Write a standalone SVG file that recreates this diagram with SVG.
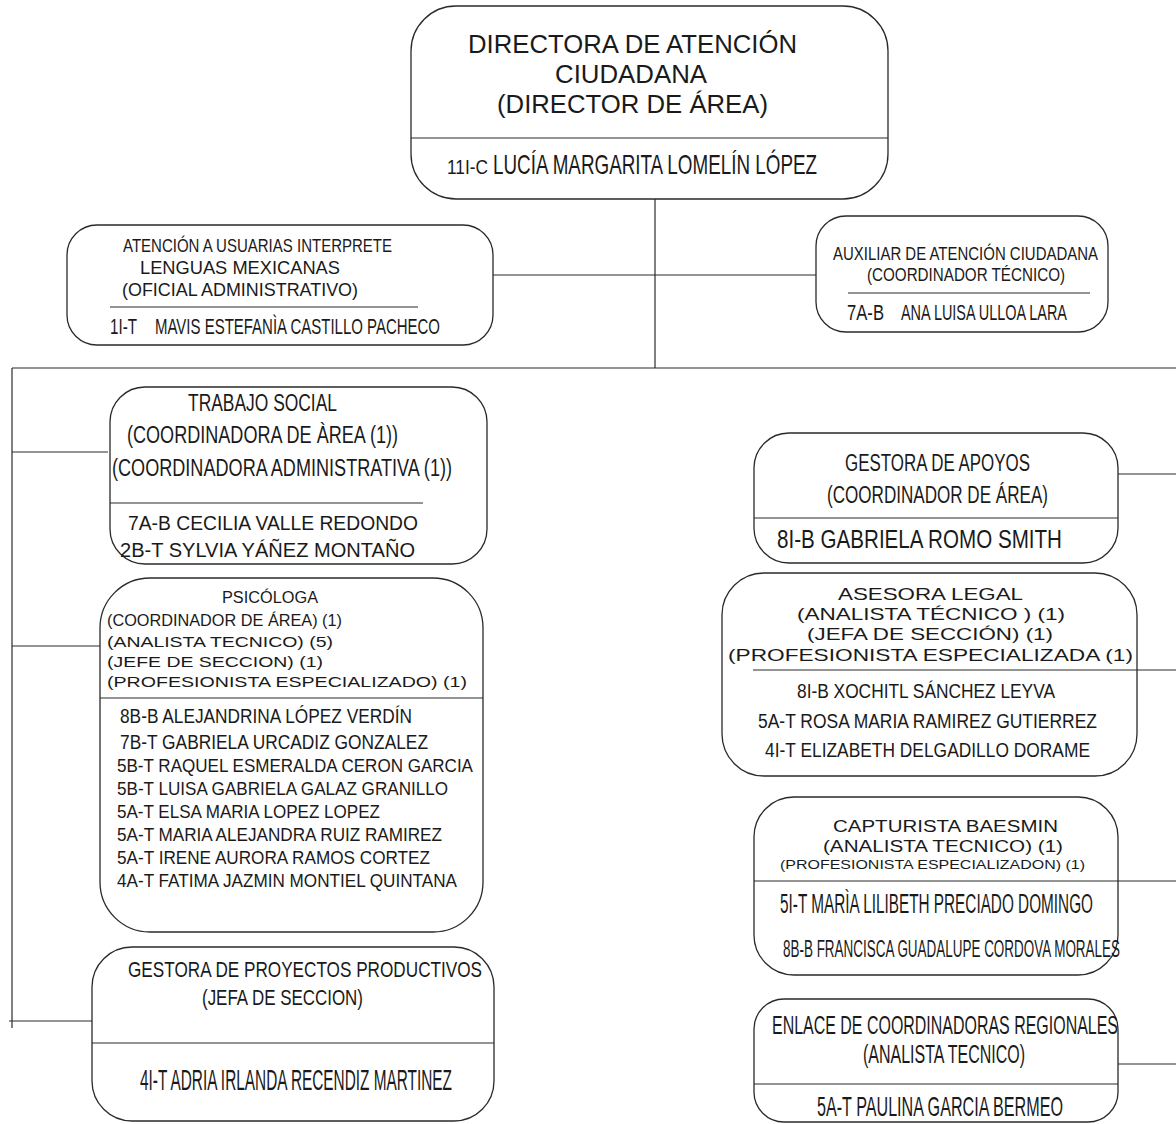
<svg xmlns="http://www.w3.org/2000/svg" width="1176" height="1124" viewBox="0 0 1176 1124">
<style>
.box{fill:#fff;stroke:#2a2a2a;stroke-width:1.3}
.div{stroke:#2a2a2a;stroke-width:1.2;fill:none}
.ln{stroke:#2a2a2a;stroke-width:1.2;fill:none}
text{font-family:"Liberation Sans",Arial,sans-serif;fill:#1a1a1a}
</style>
<rect width="1176" height="1124" fill="#fff"/>
<g id="connectors">
<line class="ln" x1="655" y1="199" x2="655" y2="368"/>
<line class="ln" x1="493" y1="275" x2="816" y2="275"/>
<line class="ln" x1="12" y1="368" x2="1176" y2="368"/>
<line class="ln" x1="12" y1="368" x2="12" y2="1028"/>
<line class="ln" x1="12" y1="452" x2="108" y2="452"/>
<line class="ln" x1="12" y1="646" x2="101" y2="646"/>
<line class="ln" x1="9" y1="1021" x2="92" y2="1021"/>
<line class="ln" x1="1118" y1="474" x2="1176" y2="474"/>
<line class="ln" x1="1137" y1="670" x2="1176" y2="670"/>
<line class="ln" x1="1118" y1="881" x2="1176" y2="881"/>
<line class="ln" x1="1116" y1="1064" x2="1176" y2="1064"/>
</g>
<g id="director">
<rect class="box" x="411" y="6" width="477" height="193" rx="45"/>
<line class="div" x1="411" y1="138" x2="888" y2="138"/>
<text x="468" y="53" font-size="25.5" textLength="329" lengthAdjust="spacingAndGlyphs">DIRECTORA DE ATENCIÓN</text>
<text x="555" y="83" font-size="25.5" textLength="152" lengthAdjust="spacingAndGlyphs">CIUDADANA</text>
<text x="497" y="113" font-size="25.5" textLength="271" lengthAdjust="spacingAndGlyphs">(DIRECTOR DE ÁREA)</text>
<text x="447" y="174" font-size="20" textLength="41" lengthAdjust="spacingAndGlyphs">11I-C</text>
<text x="493" y="174" font-size="28" textLength="324" lengthAdjust="spacingAndGlyphs">LUCÍA MARGARITA LOMELÍN LÓPEZ</text>
</g>
<g id="interprete">
<rect class="box" x="67" y="225" width="426" height="120" rx="30"/>
<line class="div" x1="110" y1="307" x2="418" y2="307"/>
<text x="123" y="252" font-size="18" textLength="269" lengthAdjust="spacingAndGlyphs">ATENCIÓN A USUARIAS INTERPRETE</text>
<text x="140" y="274" font-size="18" textLength="200" lengthAdjust="spacingAndGlyphs">LENGUAS MEXICANAS</text>
<text x="122" y="296" font-size="18" textLength="236" lengthAdjust="spacingAndGlyphs">(OFICIAL ADMINISTRATIVO)</text>
<text x="110" y="334" font-size="22" textLength="27" lengthAdjust="spacingAndGlyphs">1I-T</text>
<text x="155" y="334" font-size="22" textLength="285" lengthAdjust="spacingAndGlyphs">MAVIS ESTEFANÌA CASTILLO PACHECO</text>
</g>
<g id="auxiliar">
<rect class="box" x="816" y="216" width="292" height="116" rx="30"/>
<line class="div" x1="848" y1="293" x2="1090" y2="293"/>
<text x="833" y="260" font-size="18" textLength="265" lengthAdjust="spacingAndGlyphs">AUXILIAR DE ATENCIÓN CIUDADANA</text>
<text x="867" y="281" font-size="18" textLength="198" lengthAdjust="spacingAndGlyphs">(COORDINADOR TÉCNICO)</text>
<text x="847" y="320" font-size="22" textLength="37" lengthAdjust="spacingAndGlyphs">7A-B</text>
<text x="901" y="320" font-size="22" textLength="166" lengthAdjust="spacingAndGlyphs">ANA LUISA ULLOA LARA</text>
</g>
<g id="trabajo-social">
<rect class="box" x="110" y="387" width="377" height="177" rx="35"/>
<line class="div" x1="110" y1="503" x2="423" y2="503"/>
<text x="188" y="411" font-size="24" textLength="149" lengthAdjust="spacingAndGlyphs">TRABAJO SOCIAL</text>
<text x="127" y="443" font-size="23" textLength="271" lengthAdjust="spacingAndGlyphs">(COORDINADORA DE ÀREA (1))</text>
<text x="112" y="476" font-size="23" textLength="340" lengthAdjust="spacingAndGlyphs">(COORDINADORA ADMINISTRATIVA (1))</text>
<text x="128" y="530" font-size="19.5" textLength="290" lengthAdjust="spacingAndGlyphs">7A-B CECILIA VALLE REDONDO</text>
<text x="120" y="557" font-size="19.5" textLength="295" lengthAdjust="spacingAndGlyphs">2B-T SYLVIA YÁÑEZ MONTAÑO</text>
</g>
<g id="psicologa">
<rect class="box" x="100" y="578" width="383" height="354" rx="50"/>
<line class="div" x1="100" y1="698" x2="483" y2="698"/>
<text x="222" y="603" font-size="16" textLength="96" lengthAdjust="spacingAndGlyphs">PSICÓLOGA</text>
<text x="107" y="626" font-size="16" textLength="235" lengthAdjust="spacingAndGlyphs">(COORDINADOR DE ÁREA) (1)</text>
<text x="107" y="647" font-size="15.5" textLength="226" lengthAdjust="spacingAndGlyphs">(ANALISTA TECNICO) (5)</text>
<text x="107" y="667" font-size="15.5" textLength="216" lengthAdjust="spacingAndGlyphs">(JEFE DE SECCION) (1)</text>
<text x="107" y="687" font-size="15.5" textLength="360" lengthAdjust="spacingAndGlyphs">(PROFESIONISTA ESPECIALIZADO) (1)</text>
<text x="120" y="723" font-size="20.5" textLength="292" lengthAdjust="spacingAndGlyphs">8B-B ALEJANDRINA LÓPEZ VERDÍN</text>
<text x="120" y="749" font-size="20.5" textLength="308" lengthAdjust="spacingAndGlyphs">7B-T GABRIELA URCADIZ GONZALEZ</text>
<text x="117" y="772" font-size="19" textLength="356" lengthAdjust="spacingAndGlyphs">5B-T RAQUEL ESMERALDA CERON GARCIA</text>
<text x="117" y="795" font-size="19" textLength="331" lengthAdjust="spacingAndGlyphs">5B-T LUISA GABRIELA GALAZ GRANILLO</text>
<text x="117" y="818" font-size="19" textLength="263" lengthAdjust="spacingAndGlyphs">5A-T ELSA MARIA LOPEZ LOPEZ</text>
<text x="117" y="841" font-size="19" textLength="325" lengthAdjust="spacingAndGlyphs">5A-T MARIA ALEJANDRA RUIZ RAMIREZ</text>
<text x="117" y="864" font-size="19" textLength="313" lengthAdjust="spacingAndGlyphs">5A-T IRENE AURORA RAMOS CORTEZ</text>
<text x="117" y="887" font-size="19" textLength="340" lengthAdjust="spacingAndGlyphs">4A-T FATIMA JAZMIN MONTIEL QUINTANA</text>
</g>
<g id="proyectos-productivos">
<rect class="box" x="92" y="947" width="402" height="174" rx="40"/>
<line class="div" x1="92" y1="1043" x2="494" y2="1043"/>
<text x="128" y="977" font-size="22" textLength="354" lengthAdjust="spacingAndGlyphs">GESTORA DE PROYECTOS PRODUCTIVOS</text>
<text x="202" y="1005" font-size="22" textLength="161" lengthAdjust="spacingAndGlyphs">(JEFA DE SECCION)</text>
<text x="140" y="1090" font-size="29" textLength="312" lengthAdjust="spacingAndGlyphs">4I-T ADRIA IRLANDA RECENDIZ MARTINEZ</text>
</g>
<g id="gestora-apoyos">
<rect class="box" x="754" y="433" width="364" height="130" rx="35"/>
<line class="div" x1="754" y1="518" x2="1118" y2="518"/>
<text x="845" y="471" font-size="23" textLength="185" lengthAdjust="spacingAndGlyphs">GESTORA DE APOYOS</text>
<text x="827" y="503" font-size="23" textLength="221" lengthAdjust="spacingAndGlyphs">(COORDINADOR DE ÁREA)</text>
<text x="777" y="548" font-size="26" textLength="285" lengthAdjust="spacingAndGlyphs">8I-B GABRIELA ROMO SMITH</text>
</g>
<g id="asesora-legal">
<rect class="box" x="722" y="573" width="415" height="203" rx="42"/>
<line class="div" x1="753" y1="670" x2="1137" y2="670"/>
<text x="838" y="600" font-size="17" textLength="185" lengthAdjust="spacingAndGlyphs">ASESORA LEGAL</text>
<text x="797" y="620" font-size="17" textLength="268" lengthAdjust="spacingAndGlyphs">(ANALISTA TÉCNICO ) (1)</text>
<text x="807" y="640" font-size="17" textLength="246" lengthAdjust="spacingAndGlyphs">(JEFA DE SECCIÓN) (1)</text>
<text x="728" y="661" font-size="17" textLength="405" lengthAdjust="spacingAndGlyphs">(PROFESIONISTA ESPECIALIZADA (1)</text>
<text x="797" y="698" font-size="19.5" textLength="258" lengthAdjust="spacingAndGlyphs">8I-B XOCHITL SÁNCHEZ LEYVA</text>
<text x="758" y="728" font-size="19.5" textLength="339" lengthAdjust="spacingAndGlyphs">5A-T ROSA MARIA RAMIREZ GUTIERREZ</text>
<text x="765" y="757" font-size="19.5" textLength="325" lengthAdjust="spacingAndGlyphs">4I-T ELIZABETH DELGADILLO DORAME</text>
</g>
<g id="capturista">
<rect class="box" x="754" y="797" width="364" height="178" rx="40"/>
<line class="div" x1="754" y1="881" x2="1118" y2="881"/>
<text x="833" y="832" font-size="16" textLength="225" lengthAdjust="spacingAndGlyphs">CAPTURISTA BAESMIN</text>
<text x="823" y="852" font-size="16" textLength="240" lengthAdjust="spacingAndGlyphs">(ANALISTA TECNICO) (1)</text>
<text x="780" y="869" font-size="13" textLength="305" lengthAdjust="spacingAndGlyphs">(PROFESIONISTA ESPECIALIZADON) (1)</text>
<text x="780" y="913" font-size="27" textLength="313" lengthAdjust="spacingAndGlyphs">5I-T MARÌA LILIBETH PRECIADO DOMINGO</text>
<text x="783" y="957" font-size="23" textLength="337" lengthAdjust="spacingAndGlyphs">8B-B FRANCISCA GUADALUPE CORDOVA MORALES</text>
</g>
<g id="enlace-regionales">
<rect class="box" x="754" y="999" width="364" height="123" rx="30"/>
<line class="div" x1="754" y1="1084" x2="1118" y2="1084"/>
<text x="772" y="1034" font-size="25" textLength="346" lengthAdjust="spacingAndGlyphs">ENLACE DE COORDINADORAS REGIONALES</text>
<text x="863" y="1063" font-size="25" textLength="162" lengthAdjust="spacingAndGlyphs">(ANALISTA TECNICO)</text>
<text x="817" y="1116" font-size="28" textLength="246" lengthAdjust="spacingAndGlyphs">5A-T PAULINA GARCIA BERMEO</text>
</g>
</svg>
